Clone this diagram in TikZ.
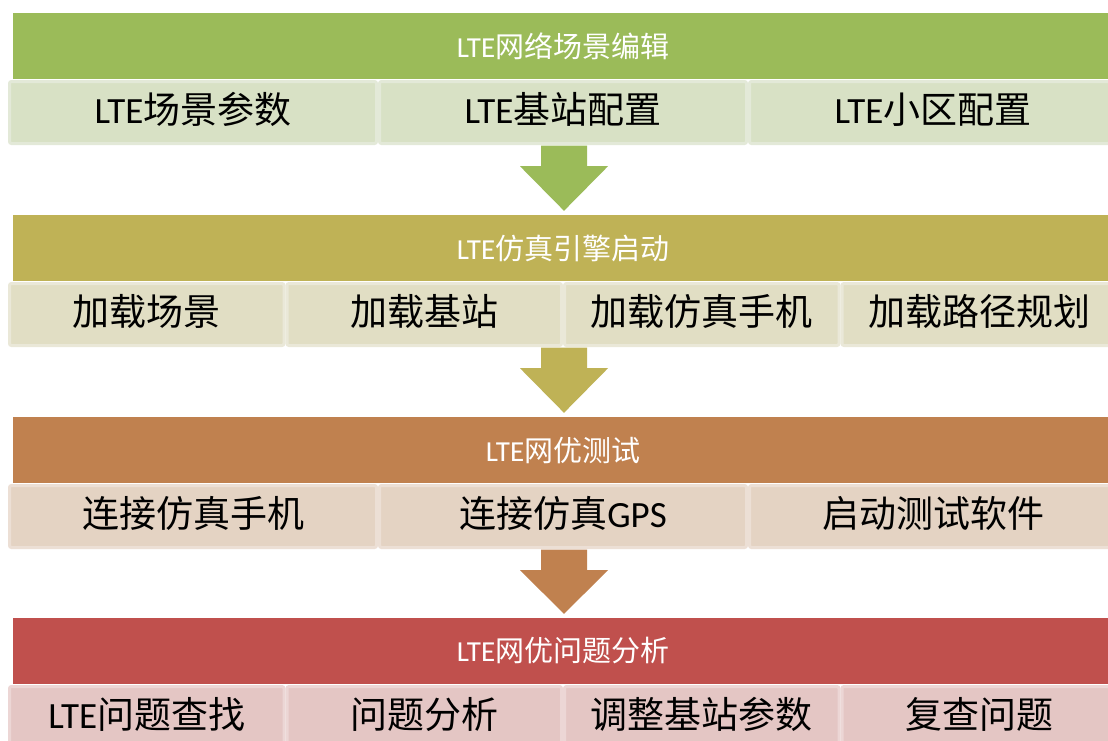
\documentclass[tikz,border=0pt]{standalone}
\usepackage{fontspec}
\setmainfont{Carlito}
\newfontfamily\cjk{Noto Sans CJK SC}
\usetikzlibrary{calc}
\definecolor{hA}{HTML}{9BBB59}
\definecolor{cA}{HTML}{D8E1C5}
\definecolor{bA}{HTML}{E3E9D8}
\definecolor{hB}{HTML}{BFB256}
\definecolor{cB}{HTML}{E1DEC4}
\definecolor{bB}{HTML}{EAE8D8}
\definecolor{hC}{HTML}{C0814F}
\definecolor{cC}{HTML}{E4D3C3}
\definecolor{bC}{HTML}{ECDFD5}
\definecolor{hD}{HTML}{C0504D}
\definecolor{cD}{HTML}{E4C6C4}
\definecolor{bD}{HTML}{ECD6D5}
\tikzset{
  hdr/.style={minimum width=1100pt, minimum height=66pt, inner sep=0pt, text=white,
    font=\fontsize{29}{32}\selectfont},
  cellbase/.style={minimum height=62pt, line width=3pt, rounded corners=2pt, inner sep=0pt,
    font=\fontsize{37}{40}\selectfont, text=black, text height=32pt, text depth=11pt},
  cellthree/.style={cellbase, minimum width=367pt},
  cellfour/.style={cellbase, minimum width=274.5pt},
}
\begin{document}
\begin{tikzpicture}[x=1pt,y=-1pt]
\clip (0,0) rectangle (1108,740);
\fill[white] (0,0) rectangle (1108,740);
% headers
\node[hdr, fill=hA] (h1) at (563,46) {LTE{\cjk 网络场景编辑}};
\node[hdr, fill=hB] (h2) at (563,248) {LTE{\cjk 仿真引擎启动}};
\node[hdr, fill=hC] (h3) at (563,450) {LTE{\cjk 网优测试}};
\node[hdr, fill=hD] (h4) at (563,651) {LTE{\cjk 网优问题分析}};
% row 1
\node[cellthree, fill=cA, draw=bA] (r1a) at (193,112.5) {LTE{\cjk 场景参数}};
\node[cellthree, fill=cA, draw=bA] (r1b) at (563,112.5) {LTE{\cjk 基站配置}};
\node[cellthree, fill=cA, draw=bA] (r1c) at (933,112.5) {LTE{\cjk 小区配置}};
% row 2
\node[cellfour, fill=cB, draw=bB] (r2a) at (146.75,314.5) {\cjk 加载场景};
\node[cellfour, fill=cB, draw=bB] (r2b) at (424.25,314.5) {\cjk 加载基站};
\node[cellfour, fill=cB, draw=bB] (r2c) at (701.75,314.5) {\cjk 加载仿真手机};
\node[cellfour, fill=cB, draw=bB] (r2d) at (979.25,314.5) {\cjk 加载路径规划};
% row 3
\node[cellthree, fill=cC, draw=bC] (r3a) at (193,516.5) {\cjk 连接仿真手机};
\node[cellthree, fill=cC, draw=bC] (r3b) at (563,516.5) {{\cjk 连接仿真}GPS};
\node[cellthree, fill=cC, draw=bC] (r3c) at (933,516.5) {\cjk 启动测试软件};
% row 4
\node[cellfour, fill=cD, draw=bD] (r4a) at (146.75,717.5) {LTE{\cjk 问题查找}};
\node[cellfour, fill=cD, draw=bD] (r4b) at (424.25,717.5) {\cjk 问题分析};
\node[cellfour, fill=cD, draw=bD] (r4c) at (701.75,717.5) {\cjk 调整基站参数};
\node[cellfour, fill=cD, draw=bD] (r4d) at (979.25,717.5) {\cjk 复查问题};
% block arrows
\foreach \a/\b/\c in {h1/h2/hA, h2/h3/hB, h3/h4/hC}{
  \path ($(\a.south)+(1,66.5)$) coordinate (s) ($(\b.north)+(1,-4)$) coordinate (t);
  \fill[\c] ($(s)+(-23,0)$) -- ($(s)+(23,0)$) -- ($(s)+(23,20.5)$) -- ($(s)+(44,20.5)$)
    -- (t) -- ($(s)+(-44,20.5)$) -- ($(s)+(-23,20.5)$) -- cycle;
}
\end{tikzpicture}
\end{document}
